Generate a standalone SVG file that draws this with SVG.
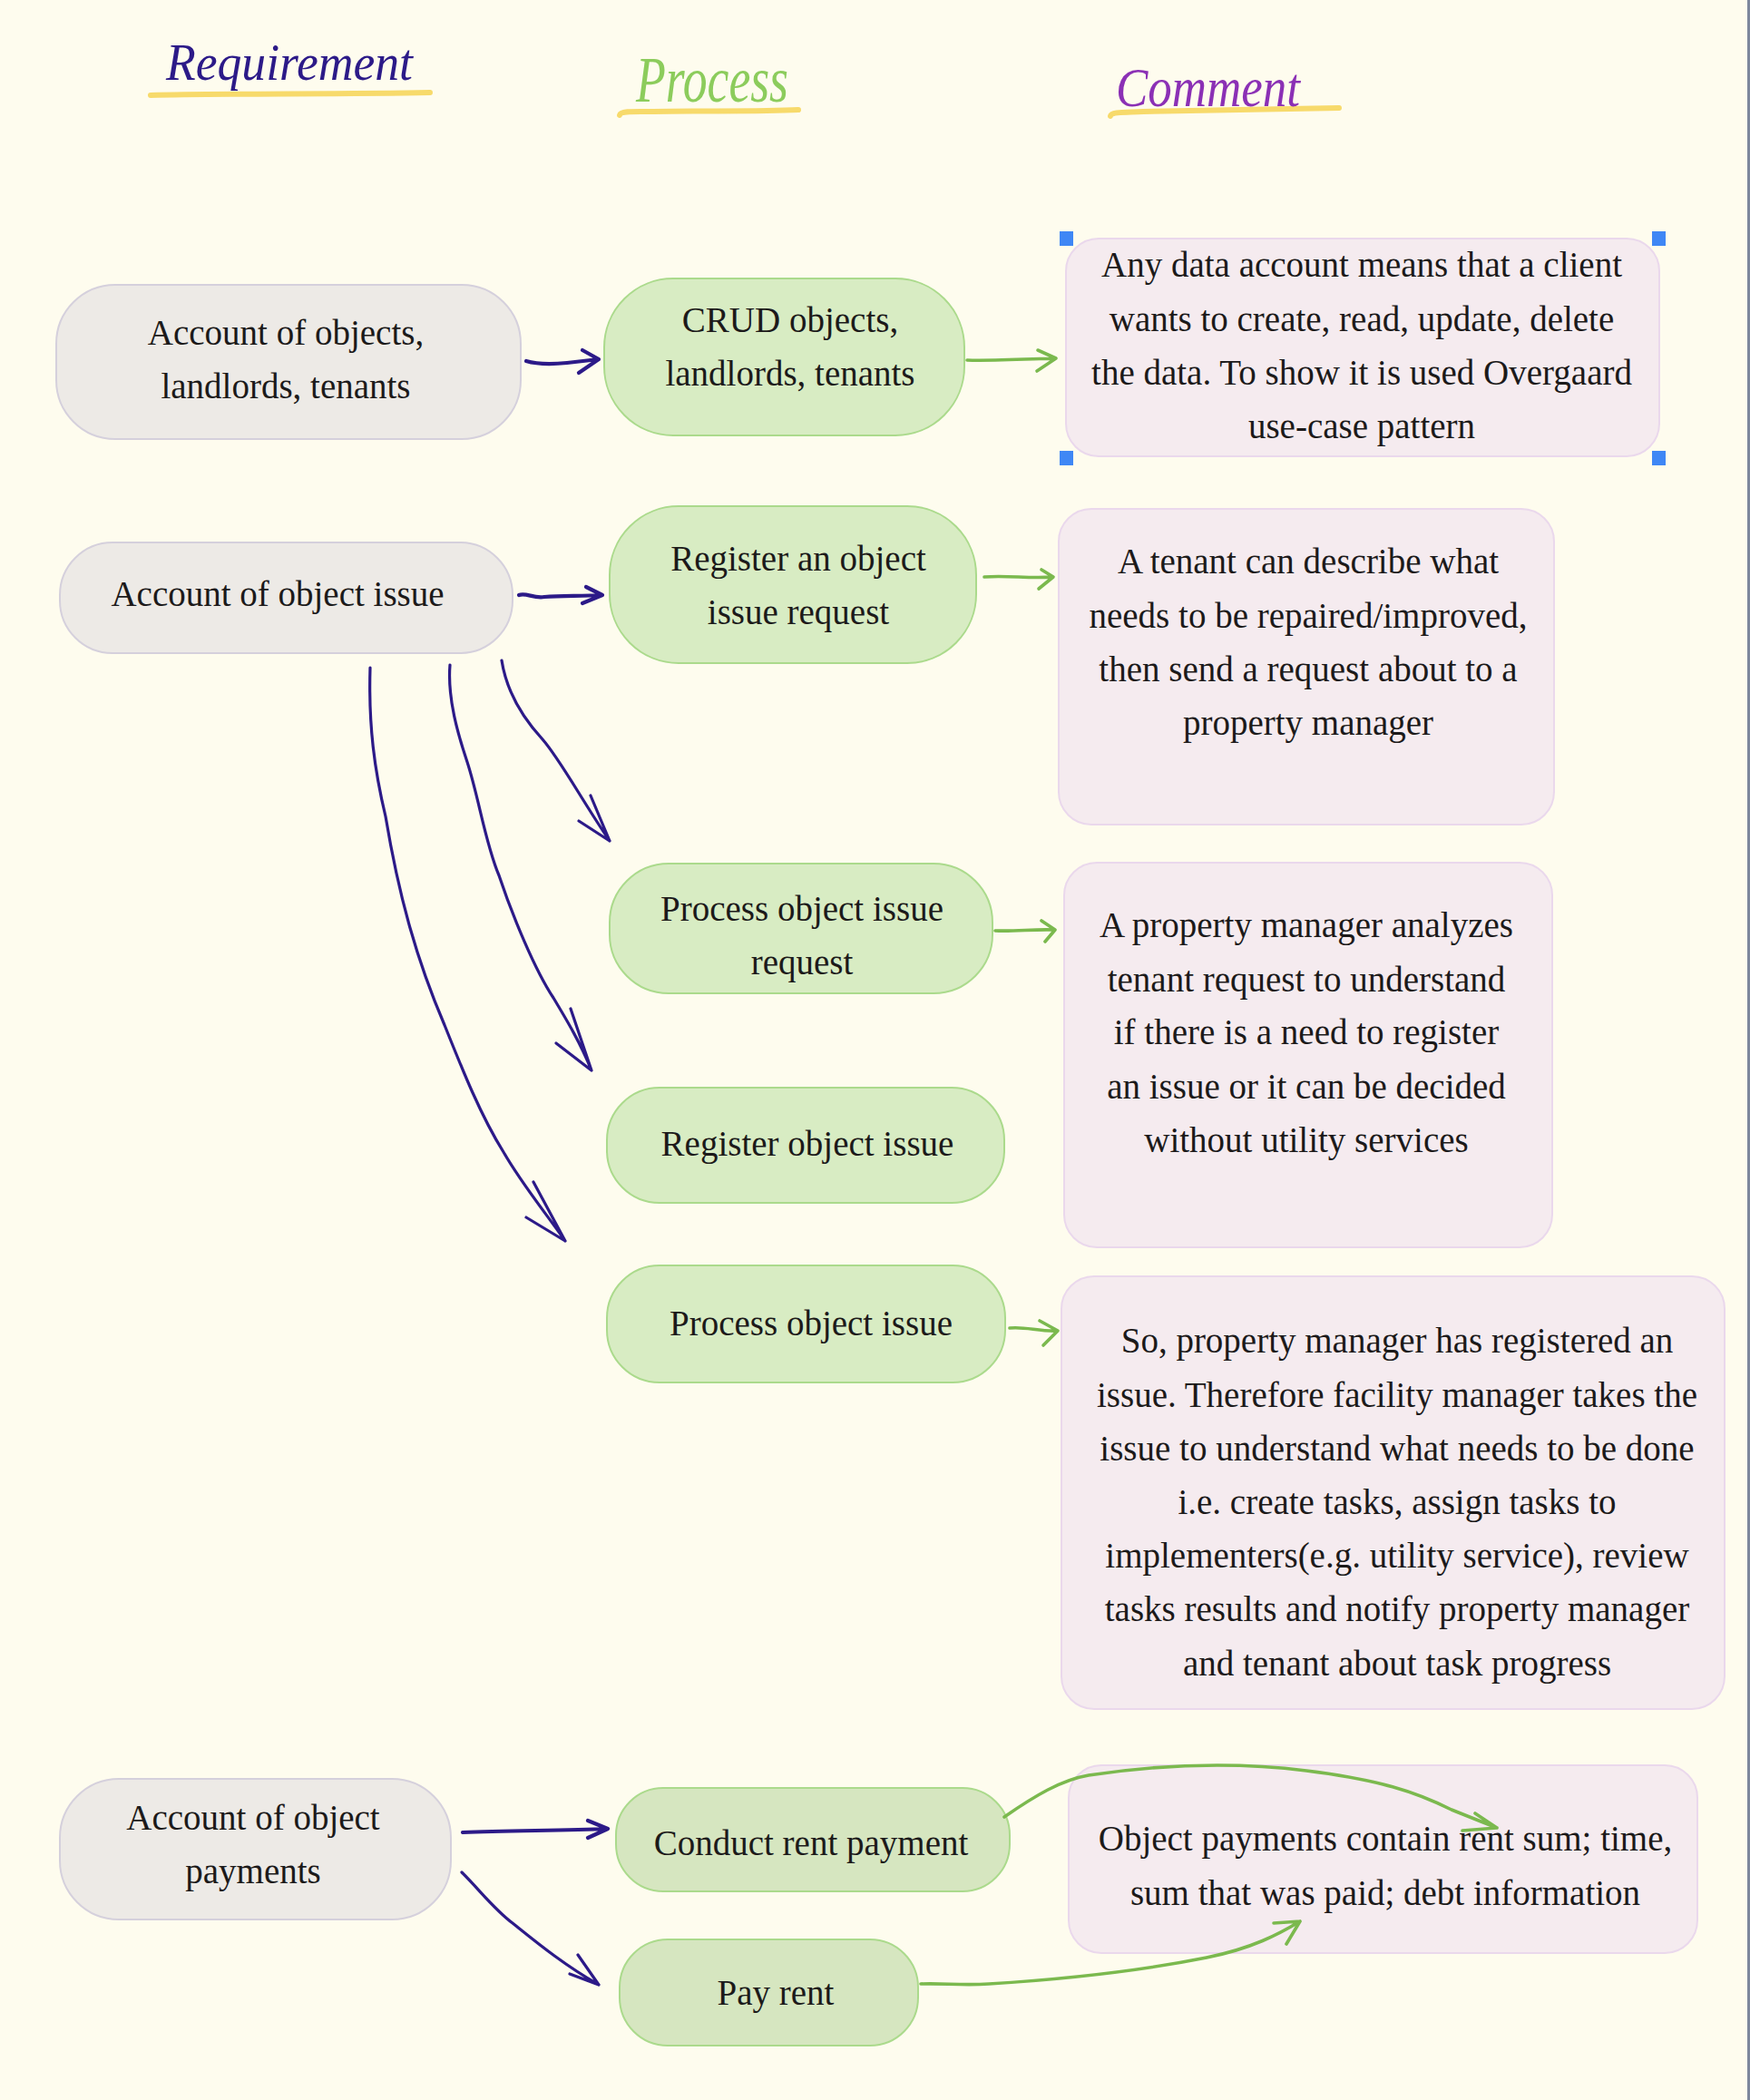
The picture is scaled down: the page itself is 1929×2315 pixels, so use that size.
<svg xmlns="http://www.w3.org/2000/svg" width="1929" height="2315" viewBox="0 0 1929 2315">
<style>
.bg{fill:#fefcee}
.req{fill:#edeae6;stroke:#d5d0dc;stroke-width:2}
.proc{fill:#d8ecc3;stroke:#abda8c;stroke-width:2}
.proc2{fill:#d6e6c0;stroke:#abda8c;stroke-width:2}
.com{fill:#f5ebef;stroke:#ead8ec;stroke-width:2}
.t{font-family:"Liberation Serif","Times New Roman",serif;font-size:39px;fill:#1c1a1a;text-anchor:middle}
.h{font-family:"Liberation Serif",serif;font-style:italic}
.ul{fill:none;stroke:#f6d65c;stroke-width:6;stroke-linecap:round;stroke-opacity:0.9}
.cb{fill:none;stroke:#2c1a88;stroke-width:3.2;stroke-linecap:round;stroke-linejoin:round}
.cbt{stroke-width:4.2}
.cg{fill:none;stroke:#7bb94e;stroke-width:3.6;stroke-linecap:round;stroke-linejoin:round}
.hd{fill:#3f87f5}
</style>
<rect class="bg" x="0" y="0" width="1929" height="2315"/>
<rect x="1926" y="0" width="3" height="2315" fill="#7d879c"/>

<g id="headers">
<path class="ul" d="M166 105 C250 103 380 104 474 102"/>
<path class="ul" d="M683 127 C684 122 700 123 720 123 C780 122 840 123 880 121"/>
<path class="ul" d="M1224 128 C1225 123 1240 124 1260 123 C1340 122 1420 120 1476 119"/>
<text class="h" x="183" y="88" font-size="58" fill="#2c1a88" textLength="272" lengthAdjust="spacingAndGlyphs">Requirement</text>
<text class="h" x="701" y="112" font-size="72" fill="#8ccc5c" textLength="168" lengthAdjust="spacingAndGlyphs">Process</text>
<text class="h" x="1230" y="117" font-size="62" fill="#8b30b5" textLength="203" lengthAdjust="spacingAndGlyphs">Comment</text>
</g>

<g id="r1"><rect class="req" x="62" y="314" width="512" height="170" rx="65"/>
<text class="t" x="315" y="380">Account of objects,</text><text class="t" x="315" y="439">landlords, tenants</text></g>
<g id="r2"><rect class="req" x="66" y="598" width="499" height="122" rx="58"/>
<text class="t" x="306" y="668">Account of object issue</text></g>
<g id="r3"><rect class="req" x="66" y="1961" width="431" height="155" rx="65"/>
<text class="t" x="279" y="2017">Account of object</text><text class="t" x="279" y="2076">payments</text></g>

<g id="p1"><rect class="proc" x="666" y="307" width="397" height="173" rx="76"/>
<text class="t" x="871" y="366">CRUD objects,</text><text class="t" x="871" y="425">landlords, tenants</text></g>
<g id="p2"><rect class="proc" x="672" y="558" width="404" height="173" rx="76"/>
<text class="t" x="880" y="629">Register an object</text><text class="t" x="880" y="688">issue request</text></g>
<g id="p3"><rect class="proc" x="672" y="952" width="422" height="143" rx="65"/>
<text class="t" x="884" y="1015">Process object issue</text><text class="t" x="884" y="1074">request</text></g>
<g id="p4"><rect class="proc" x="669" y="1199" width="438" height="127" rx="58"/>
<text class="t" x="890" y="1274">Register object issue</text></g>
<g id="p5"><rect class="proc" x="669" y="1395" width="439" height="129" rx="58"/>
<text class="t" x="894" y="1472">Process object issue</text></g>
<g id="p6"><rect class="proc2" x="679" y="1971" width="434" height="114" rx="52"/>
<text class="t" x="894" y="2045">Conduct rent payment</text></g>
<g id="p7"><rect class="proc2" x="683" y="2138" width="329" height="117" rx="53"/>
<text class="t" x="855" y="2210">Pay rent</text></g>

<g id="c1"><rect class="com" x="1175" y="263" width="654" height="240" rx="36"/>
<text class="t" x="1501" y="305">Any data account means that a client</text>
<text class="t" x="1501" y="365">wants to create, read, update, delete</text>
<text class="t" x="1501" y="424">the data. To show it is used Overgaard</text>
<text class="t" x="1501" y="483">use-case pattern</text>
<rect class="hd" x="1168" y="255" width="15" height="16"/><rect class="hd" x="1821" y="255" width="15" height="16"/>
<rect class="hd" x="1168" y="497" width="15" height="16"/><rect class="hd" x="1821" y="497" width="15" height="16"/></g>
<g id="c2"><rect class="com" x="1167" y="561" width="546" height="348" rx="36"/>
<text class="t" x="1442" y="632">A tenant can describe what</text>
<text class="t" x="1442" y="692">needs to be repaired/improved,</text>
<text class="t" x="1442" y="751">then send a request about to a</text>
<text class="t" x="1442" y="810">property manager</text></g>
<g id="c3"><rect class="com" x="1173" y="951" width="538" height="424" rx="36"/>
<text class="t" x="1440" y="1033">A property manager analyzes</text>
<text class="t" x="1440" y="1093">tenant request to understand</text>
<text class="t" x="1440" y="1151">if  there is a need to register</text>
<text class="t" x="1440" y="1211">an issue or it can be decided</text>
<text class="t" x="1440" y="1270">without utility services</text></g>
<g id="c4"><rect class="com" x="1170" y="1407" width="731" height="477" rx="36"/>
<text class="t" x="1540" y="1491">So, property manager has registered an</text>
<text class="t" x="1540" y="1551">issue. Therefore facility manager takes the</text>
<text class="t" x="1540" y="1610">issue to understand what needs to be done</text>
<text class="t" x="1540" y="1669">i.e. create tasks, assign tasks to</text>
<text class="t" x="1540" y="1728">implementers(e.g. utility service), review</text>
<text class="t" x="1540" y="1787">tasks results and notify property manager</text>
<text class="t" x="1540" y="1847">and tenant about task progress</text></g>
<g id="c5"><rect class="com" x="1178" y="1946" width="693" height="207" rx="36"/>
<text class="t" x="1527" y="2040">Object payments contain rent sum; time,</text>
<text class="t" x="1527" y="2100">sum that was paid; debt information</text></g>

<g id="connectors">
<path class="cb cbt" d="M580 398 C590 401 605 402 625 400 L660 396 M642 386 L660 396 L638 411"/>
<path class="cb cbt" d="M572 656 C580 653 588 660 600 658 C620 657 640 657 664 656 M646 647 L664 656 L642 665"/>
<path class="cb" d="M553 728 C558 760 575 790 598 815 C618 838 640 880 672 927 M651 877 L672 927 L638 905"/>
<path class="cb" d="M496 733 C493 770 505 810 515 840 C528 880 535 930 550 965 C565 1010 590 1070 610 1100 C625 1125 640 1150 652 1180 M629 1112 L652 1180 L613 1150"/>
<path class="cb" d="M408 736 C406 800 413 850 425 900 C440 990 460 1060 490 1130 C510 1180 530 1230 555 1270 C575 1305 600 1335 623 1368 M588 1303 L623 1368 L580 1342"/>
<path class="cb cbt" d="M510 2020 C560 2018 620 2018 670 2016 M648 2007 L670 2016 L648 2026"/>
<path class="cb" d="M509 2064 C530 2085 545 2105 565 2120 C590 2140 620 2165 660 2188 M637 2155 L660 2188 L628 2176"/>
<path class="cg" d="M1066 397 C1090 398 1130 396 1163 395 M1144 386 L1164 395 L1143 409"/>
<path class="cg" d="M1085 636 C1110 634 1135 638 1160 636 M1148 628 L1161 636 L1145 649"/>
<path class="cg" d="M1097 1026 C1120 1027 1140 1024 1162 1025 M1148 1015 L1163 1025 L1152 1038"/>
<path class="cg" d="M1113 1464 C1130 1462 1145 1468 1166 1467 M1146 1456 L1166 1467 L1150 1483"/>
<path class="cg" d="M1107 2003 C1140 1980 1170 1962 1200 1957 C1280 1945 1360 1942 1440 1952 C1520 1962 1560 1975 1600 1995 L1650 2015 M1626 1999 L1650 2015 L1612 2018"/>
<path class="cg" d="M1015 2187 C1040 2186 1060 2189 1090 2187 C1170 2182 1260 2172 1330 2158 C1380 2148 1410 2132 1433 2118 M1404 2120 L1433 2118 L1418 2143"/>
</g>
</svg>
